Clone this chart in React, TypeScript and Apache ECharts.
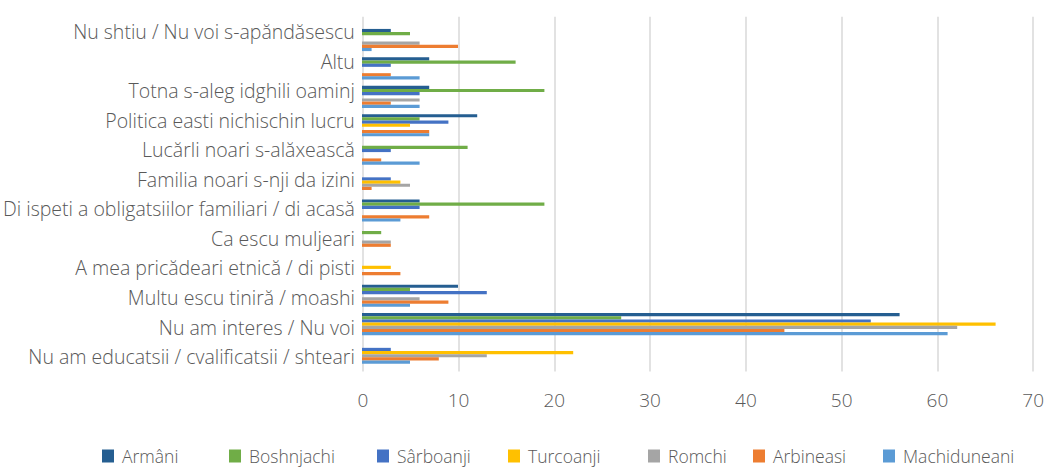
import React, { useEffect, useRef } from "react";
import * as echarts from "echarts";

const categories = [
  "Nu shtiu / Nu voi s-apăndăsescu",
  "Altu",
  "Totna s-aleg idghili oaminj",
  "Politica easti nichischin lucru",
  "Lucărli noari s-alăxească",
  "Familia noari s-nji da izini",
  "Di ispeti a obligatsiilor familiari / di acasă",
  "Ca escu muljeari",
  "A mea pricădeari etnică / di pisti",
  "Multu escu tiniră / moashi",
  "Nu am interes / Nu voi",
  "Nu am educatsii / cvalificatsii / shteari",
];

const seriesNames = [
  "Armâni",
  "Boshnjachi",
  "Sârboanji",
  "Turcoanji",
  "Romchi",
  "Arbineasi",
  "Machiduneani",
];

const armani = [3, 7, 7, 12, 0, 0, 6, 0, 0, 10, 56, 0];
const boshnjachi = [5, 16, 19, 6, 11, 0, 19, 2, 0, 5, 27, 0];
const sarboanji = [0, 3, 6, 9, 3, 3, 6, 0, 0, 13, 53, 3];
const turcoanji = [0, 0, 0, 5, 0, 4, 0, 0, 3, 0, 66, 22];
const romchi = [6, 0, 6, 0, 0, 5, 0, 3, 0, 6, 62, 13];
const arbineasi = [10, 3, 3, 7, 2, 1, 7, 3, 4, 9, 44, 8];
const machiduneani = [1, 6, 6, 7, 6, 0, 4, 0, 0, 5, 61, 5];

const xTicks = [0, 10, 20, 30, 40, 50, 60, 70];

const seriesData = [armani, boshnjachi, sarboanji, turcoanji, romchi, arbineasi, machiduneani];
const colors = ["#255E91", "#70AD47", "#4472C4", "#FFC000", "#A5A5A5", "#ED7D31", "#5B9BD5"];
const legendLefts = [102, 229, 377, 508, 648, 753, 883];

export default function App() {
  const ref = useRef<HTMLDivElement>(null);
  useEffect(() => {
    document.body.style.margin = "0";
    if (!ref.current) return;
    const chart = echarts.init(ref.current, undefined, { renderer: "svg" });
    const font = "'Open Sans'";
    const option: any = {
      animation: false,
      backgroundColor: "#ffffff",
      grid: [
        { left: 362, right: 13, top: 25.8, height: 341, containLabel: false },
        { left: 362, right: 13, top: 16.8, height: 354.6, containLabel: false },
      ],
      xAxis: [
        {
          gridIndex: 0,
          type: "value",
          min: xTicks[0],
          max: xTicks[xTicks.length - 1],
          interval: 10,
          show: false,
        },
        {
          gridIndex: 1,
          type: "value",
          min: xTicks[0],
          max: xTicks[xTicks.length - 1],
          interval: 10,
          axisLine: { show: false },
          axisTick: { show: false },
          splitLine: { show: true, lineStyle: { color: "#d9d9d9", width: 1.5 } },
          axisLabel: { color: "#595959", fontSize: 19, fontFamily: font, fontWeight: 300, margin: 19 },
        },
      ],
      yAxis: [
        {
          gridIndex: 0,
          type: "category",
          data: categories,
          inverse: true,
          show: false,
        },
        {
          gridIndex: 1,
          type: "category",
          data: categories,
          inverse: true,
          axisLine: { show: false },
          axisTick: { show: false },
          splitLine: { show: false },
          axisLabel: { color: "#595959", fontSize: 19.5, fontFamily: font, fontWeight: 300, margin: 8 },
        },
      ],
      legend: seriesNames.map((n, i) => ({
        data: [n],
        left: legendLefts[i],
        top: 447,
        padding: 0,
        itemWidth: 12,
        itemHeight: 13,
        icon: "rect",
        textStyle: {
          color: "#595959",
          fontSize: 17.5,
          lineHeight: 16,
          fontFamily: font,
          fontWeight: 300,
          padding: [0, 0, 0, 3],
        },
      })),
      series: seriesNames.map((n, i) => ({
        name: n,
        type: "bar",
        xAxisIndex: 0,
        yAxisIndex: 0,
        data: seriesData[i],
        barGap: "0%",
        barCategoryGap: "22%",
        itemStyle: { color: colors[i] },
      })),
    };
    chart.setOption(option);
    return () => chart.dispose();
  }, []);
  return <div ref={ref} style={{ width: 1047, height: 469 }} />;
}
